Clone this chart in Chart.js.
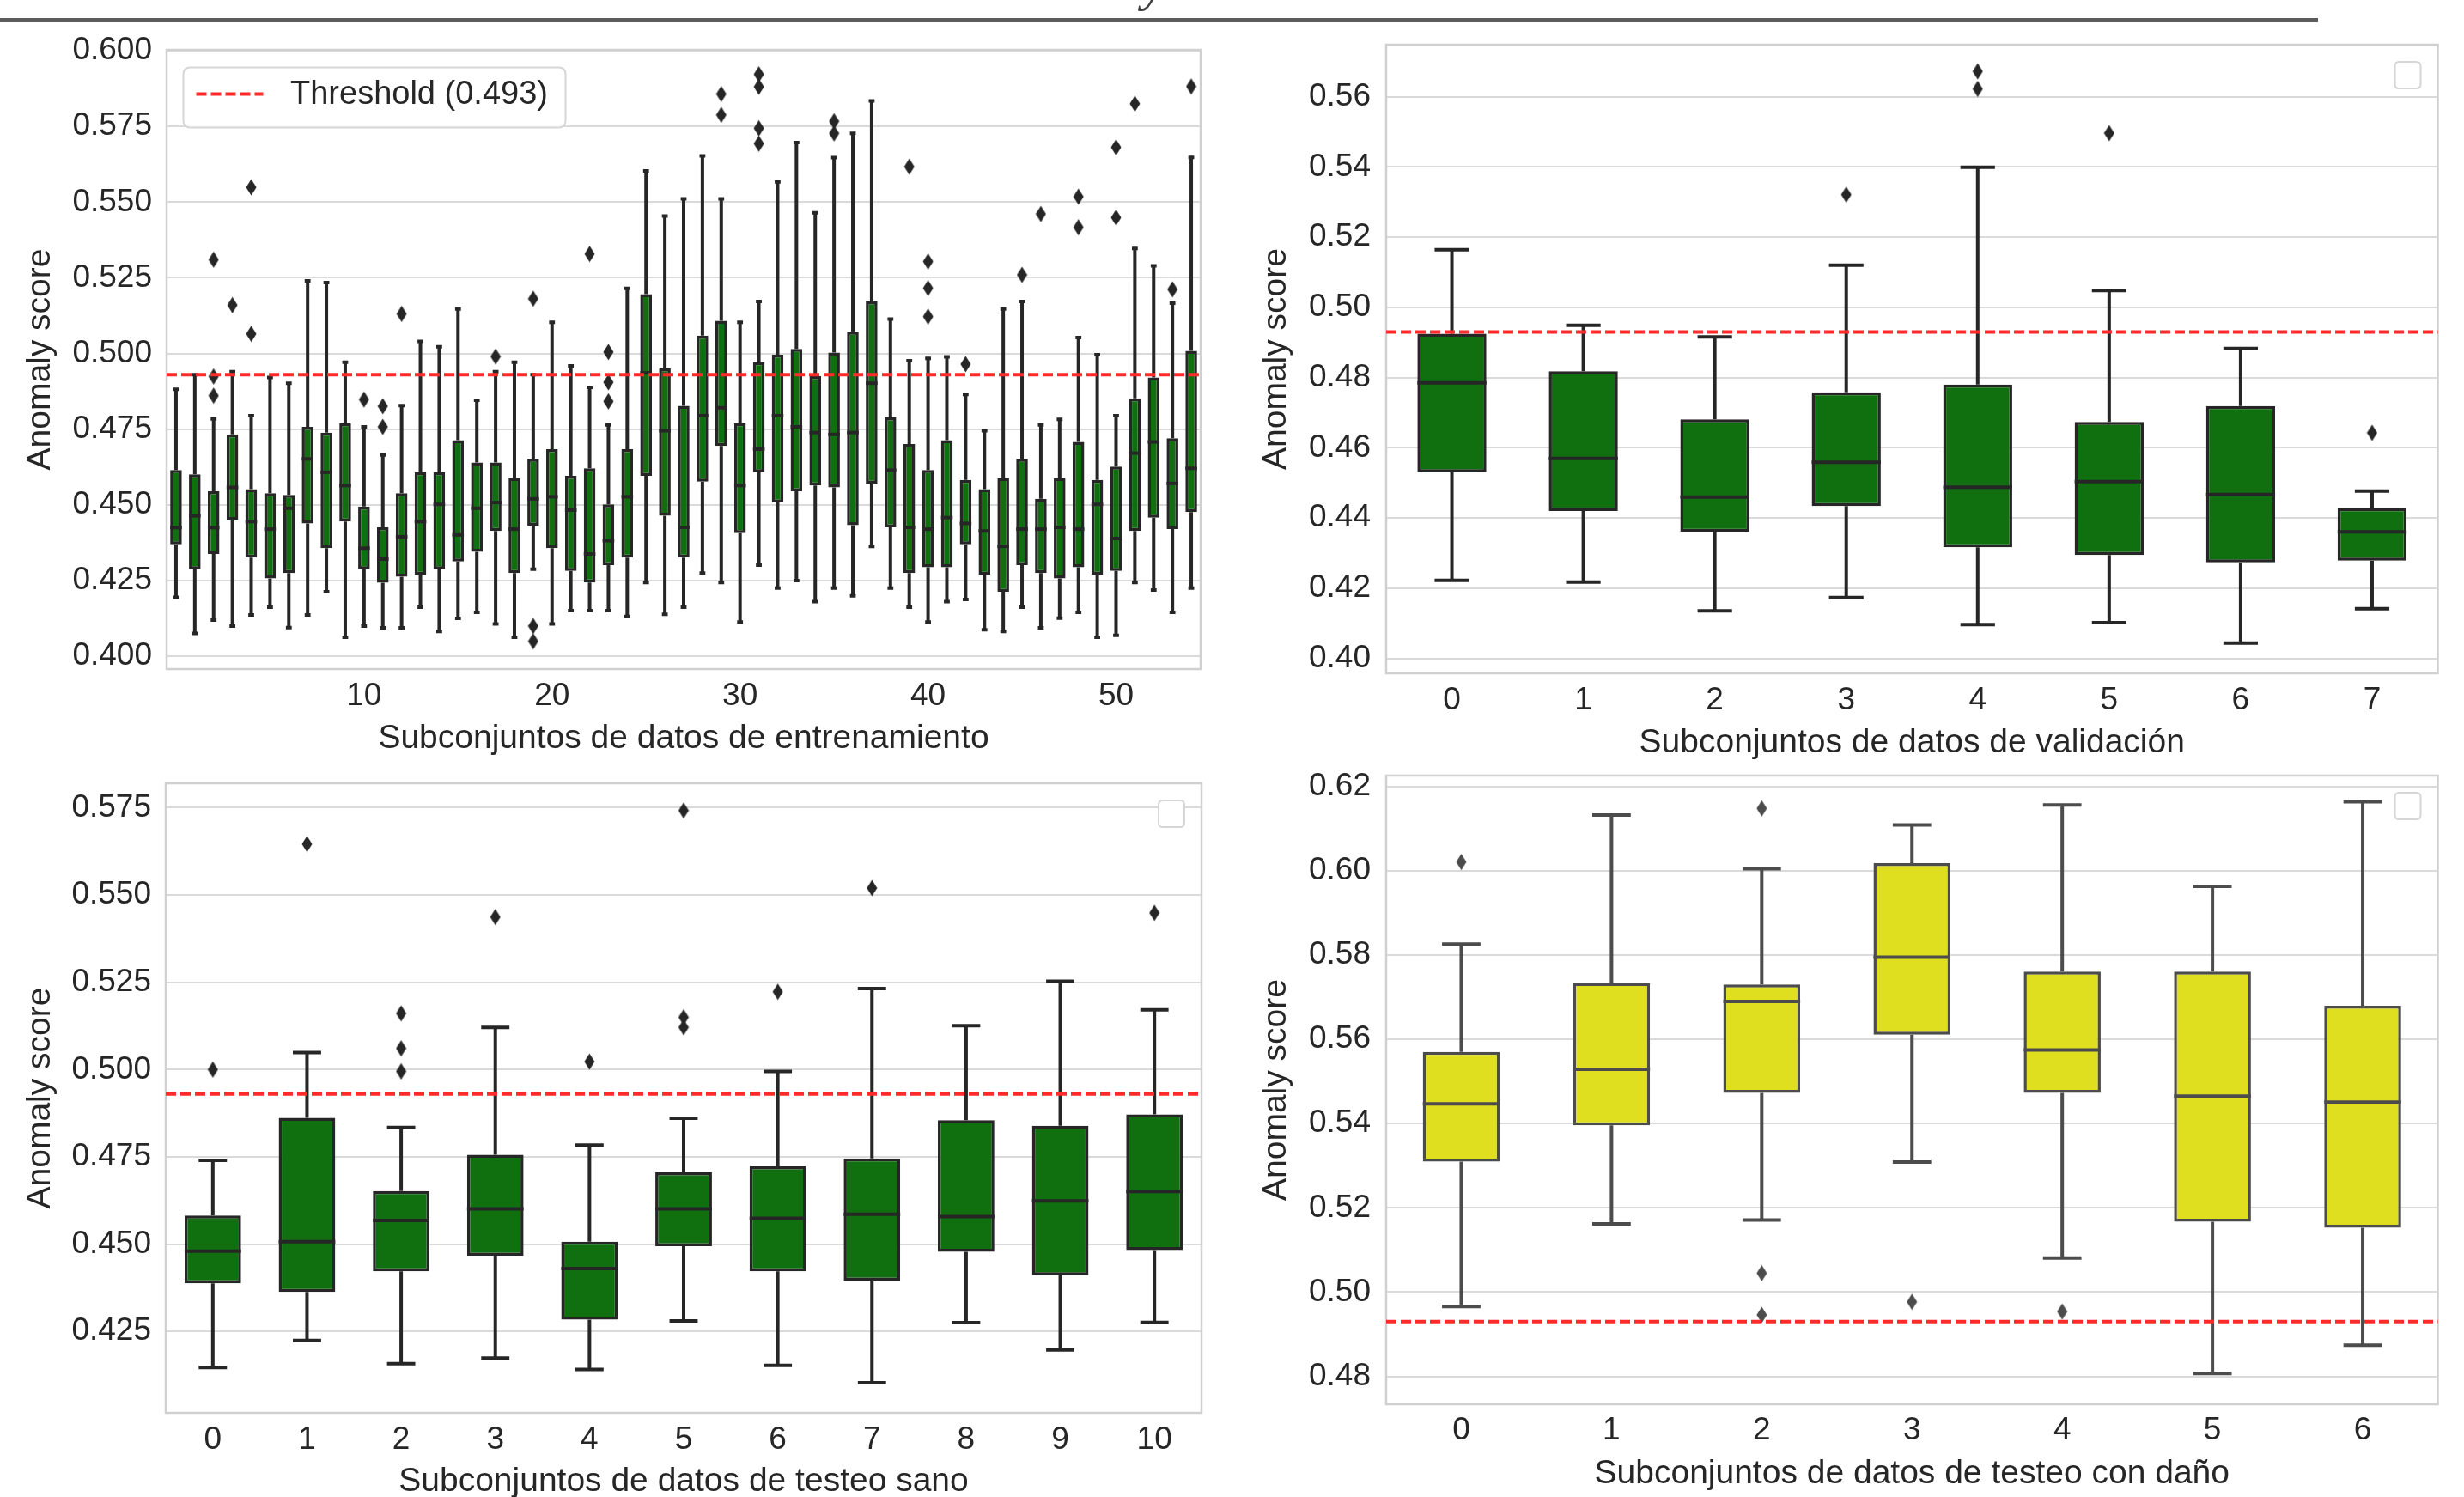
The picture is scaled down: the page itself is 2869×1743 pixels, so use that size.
<!DOCTYPE html>
<html>
  <head>
    <meta charset="utf-8" />
    <title>Anomaly score por subconjunto</title>
    <script src="https://cdn.jsdelivr.net/npm/chart.js@4.4.1/dist/chart.umd.min.js"></script>
    <style>
      html, body { margin: 0; padding: 0; background: #fff; }
      body { position: relative; width: 2869px; height: 1743px; overflow: hidden; }
      canvas { position: absolute; }
      #rule { position: absolute; left: 0; top: 21px; width: 2699px; height: 5px; background: #5b5b5b; }
      #cutTitle { position: absolute; left: 1330px; top: -50px; font: italic 60px "Liberation Serif", serif; line-height: 1; color: #404040; }
    </style>
  </head>
  <body>
    <div id="cutTitle">y</div>
    <div id="rule"></div>
    <canvas id="train" width="1420" height="890" style="left:0;top:0"></canvas>
    <canvas id="valid" width="1449" height="890" style="left:1420px;top:0"></canvas>
    <canvas id="sano" width="1420" height="880" style="left:0;top:890px"></canvas>
    <canvas id="dano" width="1449" height="880" style="left:1420px;top:890px"></canvas>

    <script type="text/javascript">
      const THRESHOLD = 0.493;

      // --- entrenamiento (55 subsets) ---
      const trainLabels = ["0","1","2","3","4","5","6","7","8","9","10","11","12","13","14","15","16","17","18","19","20","21","22","23","24","25","26","27","28","29","30","31","32","33","34","35","36","37","38","39","40","41","42","43","44","45","46","47","48","49","50","51","52","53","54"];
      const trainShownTicks = ["10", "20", "30", "40", "50"];
      const trainHigh = [0.4882,0.4930,0.4784,0.4940,0.4795,0.4921,0.4902,0.5240,0.5234,0.4971,
        0.4758,0.4665,0.4828,0.5040,0.5022,0.5147,0.4846,0.4940,0.4971,0.4930,
        0.5103,0.4959,0.4888,0.4764,0.5215,0.5603,0.5454,0.5511,0.5653,0.5511,
        0.5103,0.5172,0.5567,0.5697,0.5465,0.5647,0.5727,0.5834,0.5114,0.4976,
        0.4984,0.4989,0.4865,0.4745,0.5147,0.5172,0.4764,0.4783,0.5053,0.4996,
        0.4795,0.5347,0.5290,0.5166,0.5648];
      const trainQ3 = [0.4615,0.4601,0.4545,0.4733,0.4552,0.4539,0.4533,0.4758,0.4739,0.4770,
        0.4495,0.4426,0.4539,0.4608,0.4608,0.4714,0.4640,0.4640,0.4589,0.4652,
        0.4684,0.4596,0.4621,0.4502,0.4684,0.5196,0.4951,0.4827,0.5059,0.5108,
        0.4770,0.4971,0.4996,0.5015,0.4926,0.5003,0.5072,0.5172,0.4789,0.4701,
        0.4615,0.4714,0.4583,0.4552,0.4589,0.4652,0.4520,0.4589,0.4708,0.4583,
        0.4627,0.4852,0.4921,0.4720,0.5009];
      const trainMedian = [0.4425,0.4464,0.4425,0.4558,0.4445,0.4420,0.4489,0.4652,0.4608,0.4564,
        0.4357,0.4321,0.4395,0.4445,0.4502,0.4401,0.4489,0.4508,0.4420,0.4520,
        0.4527,0.4483,0.4338,0.4382,0.4527,0.4936,0.4745,0.4426,0.4795,0.4821,
        0.4564,0.4684,0.4795,0.4758,0.4739,0.4733,0.4739,0.4902,0.4615,0.4426,
        0.4420,0.4458,0.4439,0.4414,0.4363,0.4420,0.4420,0.4426,0.4420,0.4502,
        0.4389,0.4671,0.4708,0.4571,0.4621];
      const trainQ1 = [0.4370,0.4288,0.4338,0.4450,0.4326,0.4257,0.4275,0.4439,0.4357,0.4445,
        0.4288,0.4243,0.4263,0.4269,0.4288,0.4313,0.4345,0.4414,0.4275,0.4432,
        0.4357,0.4282,0.4244,0.4301,0.4326,0.4596,0.4464,0.4326,0.4577,0.4695,
        0.4407,0.4608,0.4508,0.4545,0.4564,0.4558,0.4433,0.4571,0.4426,0.4275,
        0.4294,0.4294,0.4370,0.4269,0.4213,0.4301,0.4275,0.4257,0.4294,0.4269,
        0.4282,0.4414,0.4458,0.4420,0.4476];
      const trainLow = [0.4195,0.4076,0.4120,0.4100,0.4137,0.4162,0.4095,0.4137,0.4213,0.4063,
        0.4100,0.4094,0.4094,0.4162,0.4082,0.4125,0.4145,0.4107,0.4063,0.4288,
        0.4107,0.4151,0.4151,0.4151,0.4132,0.4244,0.4139,0.4162,0.4275,0.4244,
        0.4113,0.4301,0.4225,0.4250,0.4181,0.4225,0.4200,0.4363,0.4225,0.4162,
        0.4113,0.4181,0.4188,0.4088,0.4082,0.4162,0.4094,0.4126,0.4145,0.4063,
        0.4069,0.4244,0.4219,0.4145,0.4225];
      const trainOutliers = [[2,0.5310],[2,0.4924],[2,0.4861],[3,0.5160],[4,0.5549],[4,0.5065],
        [10,0.4848],[11,0.4826],[11,0.4758],[12,0.5131],[17,0.4990],[19,0.5181],[19,0.4100],[19,0.4050],
        [22,0.5329],[23,0.5005],[23,0.4905],[23,0.4842],[29,0.5857],[29,0.5788],
        [31,0.5922],[31,0.5881],[31,0.5744],[31,0.5693],[35,0.5767],[35,0.5727],
        [39,0.5617],[40,0.5304],[40,0.5216],[40,0.5122],[42,0.4965],[45,0.5260],[46,0.5461],
        [48,0.5518],[48,0.5417],[50,0.5681],[50,0.5449],[51,0.5825],[53,0.5212],[54,0.5882]];
      const trainTicks = [0.400, 0.425, 0.450, 0.475, 0.500, 0.525, 0.550, 0.575, 0.600];

      // --- validacion ---
      const validLabels = ["0","1","2","3","4","5","6","7"];
      const validHigh = [0.5164, 0.4949, 0.4916, 0.5120, 0.5399, 0.5048, 0.4883, 0.4477];
      const validQ3 = [0.4925, 0.4818, 0.4681, 0.4758, 0.4780, 0.4674, 0.4719, 0.4428];
      const validMedian = [0.4785, 0.4570, 0.4460, 0.4559, 0.4488, 0.4504, 0.4467, 0.4361];
      const validQ1 = [0.4531, 0.4420, 0.4361, 0.4434, 0.4317, 0.4295, 0.4274, 0.4279];
      const validLow = [0.4223, 0.4218, 0.4136, 0.4174, 0.4097, 0.4102, 0.4044, 0.4142];
      const validOutliers = [[3,0.5321],[4,0.5672],[4,0.5622],[5,0.5496],[7,0.4643]];
      const validTicks = [0.40, 0.42, 0.44, 0.46, 0.48, 0.50, 0.52, 0.54, 0.56];

      // --- testeo sano ---
      const sanoLabels = ["0","1","2","3","4","5","6","7","8","9","10"];
      const sanoHigh = [0.4740, 0.5049, 0.4834, 0.5121, 0.4784, 0.4861, 0.4995, 0.5232, 0.5126, 0.5253, 0.5171];
      const sanoQ3 = [0.4582, 0.4862, 0.4652, 0.4756, 0.4507, 0.4706, 0.4723, 0.4746, 0.4855, 0.4839, 0.4872];
      const sanoMedian = [0.4480, 0.4507, 0.4568, 0.4601, 0.4430, 0.4601, 0.4574, 0.4586, 0.4579, 0.4624, 0.4651];
      const sanoQ1 = [0.4388, 0.4363, 0.4422, 0.4467, 0.4284, 0.4494, 0.4422, 0.4396, 0.4478, 0.4411, 0.4483];
      const sanoLow = [0.4147, 0.4224, 0.4158, 0.4174, 0.4141, 0.4280, 0.4153, 0.4103, 0.4275, 0.4197, 0.4276];
      const sanoOutliers = [[0,0.5000],[1,0.5646],[2,0.5161],[2,0.5061],[2,0.4995],[3,0.5437],[4,0.5023],
        [5,0.5742],[5,0.5150],[5,0.5121],[6,0.5223],[7,0.5520],[10,0.5449]];
      const sanoTicks = [0.425, 0.450, 0.475, 0.500, 0.525, 0.550, 0.575];

      // --- testeo con dano ---
      const danoLabels = ["0","1","2","3","4","5","6"];
      const danoHigh = [0.5826, 0.6132, 0.6005, 0.6109, 0.6156, 0.5963, 0.6164];
      const danoQ3 = [0.5570, 0.5734, 0.5730, 0.6018, 0.5761, 0.5761, 0.5680];
      const danoMedian = [0.5447, 0.5529, 0.5690, 0.5795, 0.5575, 0.5465, 0.5451];
      const danoQ1 = [0.5310, 0.5396, 0.5473, 0.5611, 0.5473, 0.5167, 0.5153];
      const danoLow = [0.4966, 0.5162, 0.5171, 0.5309, 0.5081, 0.4807, 0.4874];
      const danoOutliers = [[0,0.6021],[2,0.6148],[2,0.5045],[2,0.4946],[3,0.4977],[4,0.4954]];
      const danoTicks = [0.48, 0.50, 0.52, 0.54, 0.56, 0.58, 0.60, 0.62];

      const GREEN = "#107010";
      const YELLOW = "#dfdf20";
      const GRID = "#dadada";
      const FRAME = "#d0d0d0";
      const RED = "#ff2b2b";
      const FONT = '"Liberation Sans", Arial, sans-serif';
      const LINE_W = 4;

      Chart.defaults.font.family = FONT;
      Chart.defaults.color = "#262626";

      function diamond(color) {
        const c = document.createElement("canvas");
        c.width = 13;
        c.height = 20;
        const g = c.getContext("2d");
        g.fillStyle = color;
        g.beginPath();
        g.moveTo(6.5, 0.5);
        g.lineTo(12.5, 10);
        g.lineTo(6.5, 19.5);
        g.lineTo(0.5, 10);
        g.closePath();
        g.fill();
        return c;
      }

      function roundBox(ctx, x, y, w, h, r) {
        ctx.beginPath();
        ctx.moveTo(x + r, y);
        ctx.lineTo(x + w - r, y);
        ctx.quadraticCurveTo(x + w, y, x + w, y + r);
        ctx.lineTo(x + w, y + h - r);
        ctx.quadraticCurveTo(x + w, y + h, x + w - r, y + h);
        ctx.lineTo(x + r, y + h);
        ctx.quadraticCurveTo(x, y + h, x, y + h - r);
        ctx.lineTo(x, y + r);
        ctx.quadraticCurveTo(x, y, x + r, y);
        ctx.closePath();
      }

      // whiskers, caps, medians, threshold and legend box
      function boxParts(p) {
        return {
          id: "boxParts",
          beforeDatasetsDraw(chart) {
            const { ctx, chartArea: a } = chart;
            const ys = chart.scales.y;
            ctx.save();
            ctx.strokeStyle = FRAME;
            ctx.lineWidth = 2.5;
            ctx.strokeRect(a.left, a.top, a.width, a.height);
            ctx.strokeStyle = p.edge;
            ctx.lineWidth = LINE_W;
            chart.getDatasetMeta(0).data.forEach((bar, i) => {
              const cap = bar.width / 4;
              const top = ys.getPixelForValue(p.high[i]);
              const bottom = ys.getPixelForValue(p.low[i]);
              ctx.beginPath();
              ctx.moveTo(bar.x, ys.getPixelForValue(p.q3[i]));
              ctx.lineTo(bar.x, top);
              ctx.moveTo(bar.x, ys.getPixelForValue(p.q1[i]));
              ctx.lineTo(bar.x, bottom);
              ctx.moveTo(bar.x - cap, top);
              ctx.lineTo(bar.x + cap, top);
              ctx.moveTo(bar.x - cap, bottom);
              ctx.lineTo(bar.x + cap, bottom);
              ctx.stroke();
            });
            ctx.restore();
          },
          afterDatasetsDraw(chart) {
            const { ctx, chartArea: a } = chart;
            const ys = chart.scales.y;
            ctx.save();
            ctx.strokeStyle = p.edge;
            ctx.lineWidth = LINE_W;
            chart.getDatasetMeta(0).data.forEach((bar, i) => {
              const y = ys.getPixelForValue(p.median[i]);
              ctx.beginPath();
              ctx.moveTo(bar.x - bar.width / 2, y);
              ctx.lineTo(bar.x + bar.width / 2, y);
              ctx.stroke();
            });

            const ty = ys.getPixelForValue(THRESHOLD);
            ctx.strokeStyle = RED;
            ctx.lineWidth = 4;
            ctx.setLineDash([12, 5]);
            ctx.beginPath();
            ctx.moveTo(a.left, ty);
            ctx.lineTo(a.right, ty);
            ctx.stroke();
            ctx.setLineDash([]);

            if (p.legend) {
              const lx = a.left + 19.5, ly = a.top + 20.5;
              roundBox(ctx, lx, ly, 445, 70, 8);
              ctx.fillStyle = "rgba(255,255,255,0.85)";
              ctx.fill();
              ctx.strokeStyle = "#d6d6d6";
              ctx.lineWidth = 2;
              ctx.stroke();
              ctx.strokeStyle = RED;
              ctx.lineWidth = 4;
              ctx.setLineDash([12, 5]);
              ctx.beginPath();
              ctx.moveTo(lx + 15, ly + 31);
              ctx.lineTo(lx + 93, ly + 31);
              ctx.stroke();
              ctx.setLineDash([]);
              ctx.fillStyle = "#262626";
              ctx.font = "38px " + FONT;
              ctx.textBaseline = "middle";
              ctx.fillText(p.legend, lx + 124.5, ly + 32);
            } else {
              roundBox(ctx, a.right - 50, a.top + 20, 30, 31, 5);
              ctx.fillStyle = "#ffffff";
              ctx.fill();
              ctx.strokeStyle = "#d6d6d6";
              ctx.lineWidth = 2;
              ctx.stroke();
            }
            ctx.restore();
          },
        };
      }

      function boxChart(id, p) {
        const boxes = p.labels.map((_, i) => [p.q1[i], p.q3[i]]);
        const fliers = p.outliers.map(([i, v]) => ({ x: p.labels[i], y: v }));
        return new Chart(document.getElementById(id), {
          type: "bar",
          data: {
            labels: p.labels,
            datasets: [
              {
                label: "box",
                data: boxes,
                backgroundColor: p.fill,
                borderColor: p.edge,
                borderWidth: 3.5,
                borderSkipped: false,
                barPercentage: p.barPct,
                categoryPercentage: 1,
              },
              {
                type: "scatter",
                label: "outliers",
                data: fliers,
                pointStyle: diamond(p.edge),
                pointRadius: 10,
              },
            ],
          },
          options: {
            responsive: false,
            animation: false,
            events: [],
            layout: { padding: p.pad },
            plugins: { legend: { display: false }, tooltip: { enabled: false } },
            scales: {
              x: {
                type: "category",
                grid: { display: false, drawTicks: false },
                border: { display: false },
                ticks: { font: { size: 37 }, padding: p.xTickPad, autoSkip: false, maxRotation: 0, minRotation: 0 },
                title: { display: true, text: p.xTitle, font: { size: 39 }, padding: { top: 0, bottom: p.xTitlePad } },
                afterBuildTicks: (s) => {
                  if (p.xShown) s.ticks = s.ticks.filter((t) => p.xShown.includes(p.labels[t.value]));
                },
                afterFit: (s) => {
                  s.height = p.xHeight;
                  s.paddingLeft = 0;
                  s.paddingRight = 0;
                },
              },
              y: {
                type: "linear",
                min: p.yMin,
                max: p.yMax,
                afterBuildTicks: (s) => {
                  s.ticks = p.yTicks.map((v) => ({ value: v }));
                },
                grid: { color: GRID, lineWidth: 2, drawTicks: false },
                border: { display: false },
                ticks: {
                  font: { size: 37 },
                  padding: p.yTickPad,
                  autoSkip: false,
                  callback: (v) => Number(v).toFixed(p.decimals),
                },
                title: { display: true, text: "Anomaly score", font: { size: 39 }, padding: { top: p.yTitlePad, bottom: 0 } },
                afterFit: (s) => {
                  s.width = p.yWidth;
                  s.paddingTop = 0;
                  s.paddingBottom = 0;
                },
              },
            },
          },
          plugins: [boxParts(p)],
        });
      }

      boxChart("train", {
        labels: trainLabels, xShown: trainShownTicks,
        high: trainHigh, q3: trainQ3, median: trainMedian, q1: trainQ1, low: trainLow, outliers: trainOutliers,
        yTicks: trainTicks, yMin: 0.3958, yMax: 0.6003, decimals: 3,
        fill: GREEN, edge: "#262626", barPct: 0.62,
        pad: { left: 0, top: 58, right: 22, bottom: 0 },
        yWidth: 194, xHeight: 111, xTickPad: 9.3, xTitlePad: 6.6, yTitlePad: 23.6, yTickPad: 17,
        xTitle: "Subconjuntos de datos de entrenamiento",
        legend: "Threshold (" + THRESHOLD + ")",
      });

      boxChart("valid", {
        labels: validLabels,
        high: validHigh, q3: validQ3, median: validMedian, q1: validQ1, low: validLow, outliers: validOutliers,
        yTicks: validTicks, yMin: 0.3958, yMax: 0.5748, decimals: 2,
        fill: GREEN, edge: "#262626", barPct: 0.525,
        pad: { left: 0, top: 52, right: 30.5, bottom: 0 },
        yWidth: 194, xHeight: 106, xTickPad: 9.3, xTitlePad: 1, yTitlePad: 43.1, yTickPad: 18,
        xTitle: "Subconjuntos de datos de validación",
      });

      boxChart("sano", {
        labels: sanoLabels,
        high: sanoHigh, q3: sanoQ3, median: sanoMedian, q1: sanoQ1, low: sanoLow, outliers: sanoOutliers,
        yTicks: sanoTicks, yMin: 0.4017, yMax: 0.582, decimals: 3,
        fill: GREEN, edge: "#262626", barPct: 0.6,
        pad: { left: 0, top: 22, right: 21, bottom: 0 },
        yWidth: 193, xHeight: 125, xTickPad: 9.3, xTitlePad: 21.1, yTitlePad: 23.6, yTickPad: 17,
        xTitle: "Subconjuntos de datos de testeo sano",
      });

      boxChart("dano", {
        labels: danoLabels,
        high: danoHigh, q3: danoQ3, median: danoMedian, q1: danoQ1, low: danoLow, outliers: danoOutliers,
        yTicks: danoTicks, yMin: 0.4734, yMax: 0.6226, decimals: 2,
        fill: YELLOW, edge: "#4c4c4c", barPct: 0.512,
        pad: { left: 0, top: 13, right: 30.5, bottom: 0 },
        yWidth: 194, xHeight: 135, xTickPad: 8.8, xTitlePad: 30.1, yTitlePad: 43.1, yTickPad: 18,
        xTitle: "Subconjuntos de datos de testeo con daño",
      });
    </script>
  </body>
</html>
